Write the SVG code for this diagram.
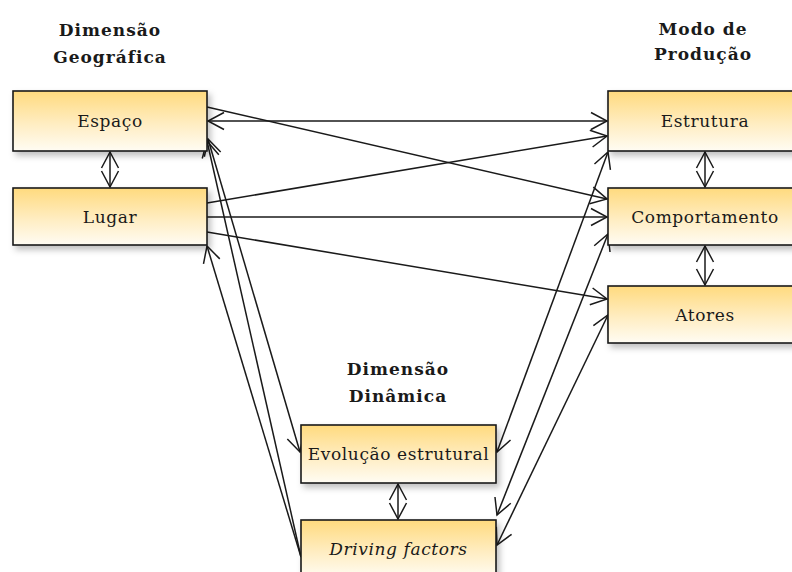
<svg xmlns="http://www.w3.org/2000/svg" width="792" height="572" viewBox="0 0 792 572">
<defs>
<linearGradient id="g" x1="0" y1="0" x2="0" y2="1">
<stop offset="0" stop-color="#FFDA7E"/>
<stop offset="0.55" stop-color="#FFEDC2"/>
<stop offset="1" stop-color="#FFFCF3"/>
</linearGradient>
<filter id="sh" x="-10%" y="-10%" width="130%" height="140%">
<feDropShadow dx="3" dy="4" stdDeviation="3" flood-color="#000" flood-opacity="0.25"/>
</filter>
<marker id="ah" markerUnits="userSpaceOnUse" markerWidth="20" markerHeight="20" viewBox="-17 -10 20 20" refX="0" refY="0" orient="auto-start-reverse">
<path d="M-16,-8.5 L0,0 L-16,8.5" fill="none" stroke="#1a1a1a" stroke-width="1.5"/>
</marker>
</defs>
<style>
.box{fill:url(#g);stroke:#1a1a1a;stroke-width:1.6;filter:url(#sh)}
.lbl{font-family:"DejaVu Serif",serif;font-size:17px;fill:#1a1a1a;text-anchor:middle;letter-spacing:0.6px}
.ttl{font-family:"DejaVu Serif",serif;font-size:17px;font-weight:bold;fill:#1a1a1a;text-anchor:middle;letter-spacing:1px}
.c{fill:none;stroke:#1a1a1a;stroke-width:1.5}
.e{marker-end:url(#ah)}
.b{marker-start:url(#ah);marker-end:url(#ah)}
</style>
<rect width="792" height="572" fill="#fff"/>
<g id="titles">
<text class="ttl" x="110" y="36">Dimensão</text>
<text class="ttl" x="110" y="63">Geográfica</text>
<text class="ttl" x="703" y="35">Modo de</text>
<text class="ttl" x="703" y="60">Produção</text>
<text class="ttl" x="398" y="375">Dimensão</text>
<text class="ttl" x="398" y="402">Dinâmica</text>
</g>
<g id="connectors">
<path class="c e" d="M207,107 L607,199"/>
<path class="c b" d="M208,121 L607,121"/>
<path class="c e" d="M207,203 L607,136"/>
<path class="c e" d="M207,217 L607,217"/>
<path class="c e" d="M207,232 L607,299"/>
<path class="c b" d="M208,139 L300,452"/>
<path class="c e" d="M301,557 L207,141"/>
<path class="c e" d="M301,557 L207,246"/>
<path class="c b" d="M497,452 L608,152"/>
<path class="c b" d="M497,515 L608,234"/>
<path class="c b" d="M497,545 L608,315"/>
<path class="c b" d="M110,152 L110,187"/>
<path class="c b" d="M705,152 L705,187"/>
<path class="c b" d="M705,246 L705,285"/>
<path class="c b" d="M398,484 L398,519"/>
</g>
<g id="espaco"><rect class="box" x="13" y="91" width="194" height="60"/><text class="lbl" x="110" y="127">Espaço</text></g>
<g id="lugar"><rect class="box" x="13" y="188" width="194" height="57"/><text class="lbl" x="110" y="223">Lugar</text></g>
<g id="estrutura"><rect class="box" x="608" y="91" width="194" height="60"/><text class="lbl" x="705" y="127">Estrutura</text></g>
<g id="comportamento"><rect class="box" x="608" y="188" width="194" height="57"/><text class="lbl" x="705" y="223">Comportamento</text></g>
<g id="atores"><rect class="box" x="608" y="286" width="194" height="57"/><text class="lbl" x="705" y="321">Atores</text></g>
<g id="evolucao"><rect class="box" x="301" y="425" width="195" height="58"/><text class="lbl" x="398.5" y="460">Evolução estrutural</text></g>
<g id="driving"><rect class="box" x="301" y="520" width="195" height="58"/><text class="lbl" x="398.5" y="555" font-style="italic">Driving factors</text></g>
</svg>
